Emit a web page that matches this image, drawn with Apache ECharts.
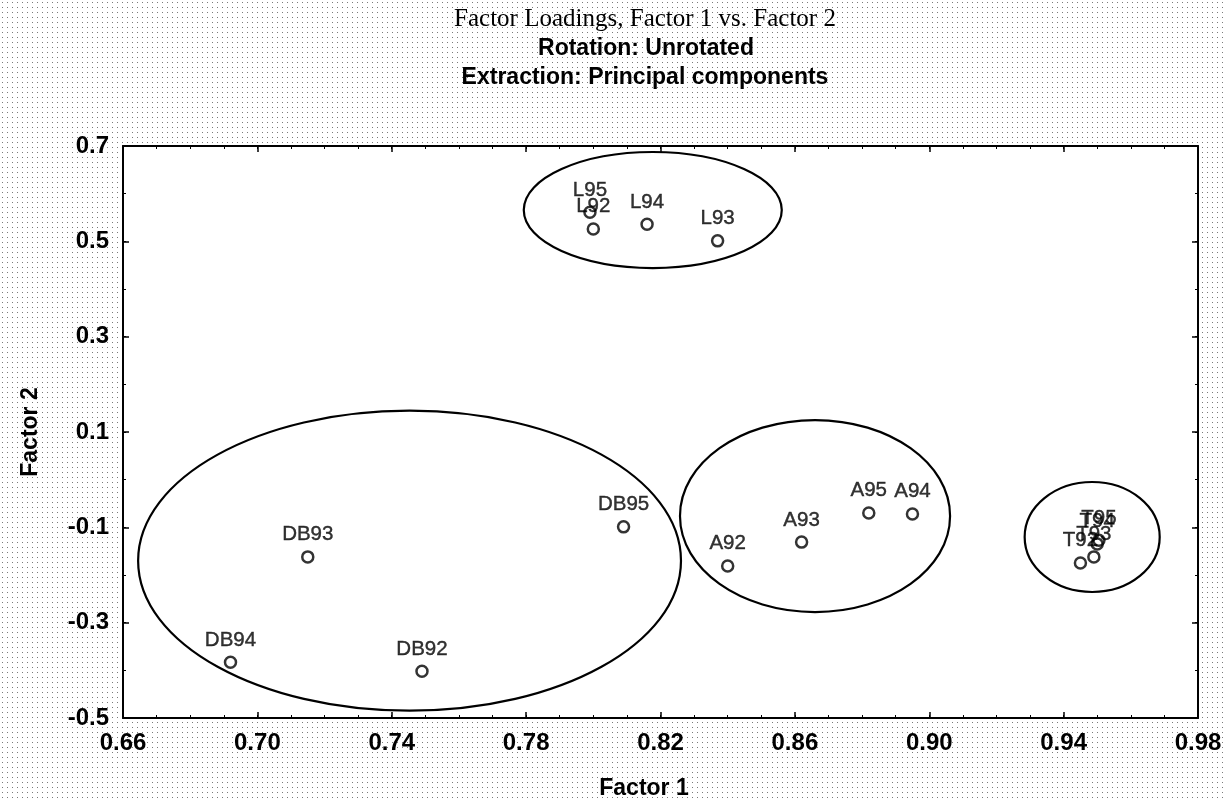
<!DOCTYPE html>
<html><head><meta charset="utf-8">
<script src="https://cdn.jsdelivr.net/npm/echarts@6/dist/echarts.min.js"></script>
<style>html,body{margin:0;padding:0;background:#fff}#c{width:1225px;height:801px}</style>
</head><body><div id="c"></div>
<script>
// ---- data ----
const names   = ['L95','L92','L94','L93','A92','A93','A95','A94','DB93','DB94','DB92','DB95','T92','T93','T94','T95'];
const factor1 = [0.799,0.800,0.816,0.837,0.840,0.862,0.882,0.895,0.715,0.692,0.749,0.809,0.945,0.949,0.950,0.9505];
const factor2 = [0.561,0.526,0.536,0.501,-0.181,-0.131,-0.070,-0.072,-0.162,-0.383,-0.402,-0.099,-0.175,-0.162,-0.135,-0.127];

const xTickLabels = [0.66,0.70,0.74,0.78,0.82,0.86,0.90,0.94,0.98];
const yTickLabels = [-0.5,-0.3,-0.1,0.1,0.3,0.5,0.7];

// group ellipses (center and half-axes in data units)
const groupNames = ['L','A','DB','T'];
const groupCx = [0.8177, 0.866, 0.7453, 0.9485];
const groupCy = [0.5657, -0.0763, -0.170, -0.1203];
const groupRx = [0.0384, 0.0402, 0.0808, 0.0201];
const groupRy = [0.1217, 0.2014, 0.3147, 0.1154];

// ---- chart ----
const pat = document.createElement('canvas');
pat.width = 5; pat.height = 5;
const pctx = pat.getContext('2d');
pctx.fillStyle = '#ffffff'; pctx.fillRect(0,0,5,5);
pctx.fillStyle = '#7a7a7a'; pctx.fillRect(2,2,1,1);

const chart = echarts.init(document.getElementById('c'), null, {renderer:'canvas'});
const XMIN = 0.66, XMAX = 0.98, YMIN = -0.5, YMAX = 0.7;
const txtFont = '"Liberation Sans", Arial, sans-serif';
const tickFont = {color:'#000', fontFamily:txtFont, fontWeight:'bold', fontSize:24};

function xAx(pos, major, withLine, withLabel){
  return {
    type:'value', position:pos, min:XMIN, max:XMAX, interval:0.01,
    axisLine:{show:withLine, onZero:false, lineStyle:{color:'#000', width:2}},
    axisTick:major ? {show:true, inside:true, length:6, customValues:xTickLabels, lineStyle:{color:'#000', width:1.5}}
                   : {show:true, inside:true, length:3, lineStyle:{color:'#000', width:1}},
    axisLabel:withLabel ? Object.assign({show:true, margin:13, customValues:xTickLabels, formatter:v=>v.toFixed(2)}, tickFont) : {show:false},
    splitLine:{show:false}
  };
}
function yAx(pos, major, withLine, withLabel){
  return {
    type:'value', position:pos, min:YMIN, max:YMAX, interval:0.1,
    axisLine:{show:withLine, onZero:false, lineStyle:{color:'#000', width:2}},
    axisTick:major ? {show:true, inside:true, length:6, customValues:yTickLabels, lineStyle:{color:'#000', width:1.5}}
                   : {show:true, inside:true, length:3, lineStyle:{color:'#000', width:1}},
    axisLabel:withLabel ? Object.assign({show:true, margin:14, customValues:yTickLabels, formatter:v=>v.toFixed(1)}, tickFont) : {show:false},
    splitLine:{show:false}
  };
}

function T(text, x, y, font, rot){
  return {type:'text', x:x, y:y, rotation:rot||0, silent:true, z:100,
    style:{text:text, font:font, fill:'#000', align:'center', verticalAlign:'middle', textAlign:'center', textVerticalAlign:'middle'}};
}

chart.setOption({
  animation:false,
  backgroundColor:{image:pat, repeat:'repeat'},
  grid:{left:123, right:27, top:146, bottom:83, show:true, backgroundColor:'#ffffff', borderWidth:0, outerBoundsMode:'none', containLabel:false},
  xAxis:[xAx('bottom',false,true,true), xAx('bottom',true,false,false), xAx('top',false,true,false), xAx('top',true,false,false)],
  yAxis:[yAx('left',false,true,true), yAx('left',true,false,false), yAx('right',false,true,false), yAx('right',true,false,false)],
  graphic:[
    T('Factor Loadings, Factor 1 vs. Factor 2', 645, 19, '25px "Liberation Serif", "Times New Roman", serif'),
    T('Rotation: Unrotated', 646, 49, 'bold 23px ' + txtFont),
    T('Extraction: Principal components', 645, 78, 'bold 23px ' + txtFont),
    T('Factor 1', 644, 789, 'bold 23px ' + txtFont),
    T('Factor 2', 31, 432, 'bold 23px ' + txtFont, Math.PI/2)
  ],
  series:[
    {
      type:'custom', xAxisIndex:0, yAxisIndex:0, silent:true, clip:false, z:1,
      data: groupNames.map((g,i)=>[groupCx[i], groupCy[i], groupRx[i], groupRy[i]]),
      renderItem:(params, api)=>{
        const c = api.coord([api.value(0), api.value(1)]);
        const s = api.size([api.value(2), api.value(3)]);
        return {type:'ellipse', shape:{cx:c[0], cy:c[1], rx:s[0], ry:s[1]},
                style:{fill:'none', stroke:'#000', lineWidth:2.2}};
      }
    },
    {
      type:'scatter', xAxisIndex:0, yAxisIndex:0, z:3,
      symbol:'circle', symbolSize:11,
      itemStyle:{color:'rgba(255,255,255,0)', borderColor:'#000', borderWidth:2.5},
      labelLayout:{hideOverlap:false},
      label:{show:true, position:'top', distance:5, color:'#000', fontFamily:txtFont, fontSize:20.5,
             textBorderColor:'#000', textBorderWidth:0.4,
             formatter:p=>p.data[2]},
      data: names.map((n,i)=>[factor1[i], factor2[i], n])
    }
  ]
});
</script>
</body></html>
